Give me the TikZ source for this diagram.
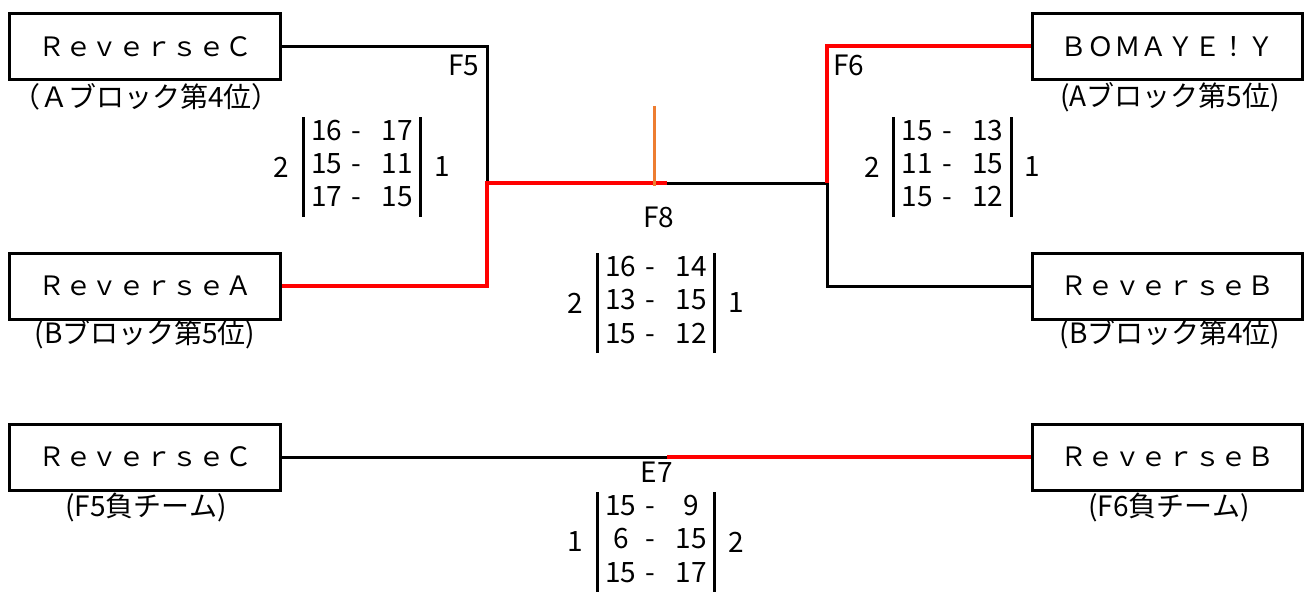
\documentclass[tikz,border=0pt]{standalone}
\usepackage{fontspec}
\setmainfont{Noto Sans CJK JP}
\usetikzlibrary{positioning}
\definecolor{winred}{RGB}{255,0,0}
\definecolor{markorange}{RGB}{237,125,49}
\setlength{\arrayrulewidth}{2.25pt}
\setlength{\tabcolsep}{6pt}
% three sets of one match, ruled left and right
\newcommand{\games}[3]{\begin{tabular}{|c@{\hspace{7pt}-\hspace{15pt}}c|}#1\\#2\\#3\end{tabular}}

\begin{document}
\begin{tikzpicture}[x=0.75pt, y=-0.75pt,
  every node/.style={font=\fontsize{21}{25}\selectfont},
  team/.style={draw, line width=2.25pt, minimum width=203pt, minimum height=49.5pt, inner sep=0pt, font=\fontsize{20}{25}\selectfont},
  note/.style={inner sep=0pt},
  score/.style={inner sep=0pt},
  wire/.style={line width=2.25pt},
  win/.style={line width=3pt, winred}]
	\useasboundingbox (0,0) rectangle (1310,592);

	% Teams and where they come from
	\node[team] (tC) at (145,46.5) {ＲｅｖｅｒｓｅＣ};
	\node[note] (nC) at (146,97) {（Ａブロック第4位）};
	\node[team] (tA) at (145,286) {ＲｅｖｅｒｓｅＡ};
	\node[note] (nA) at (145,334) {(Bブロック第5位)};
	\node[team] (tY) at (1167.5,46.5) {ＢＯＭＡＹＥ！Ｙ};
	\node[note] (nY) at (1170,97) {(Aブロック第5位)};
	\node[team] (tB) at (1167.5,286) {ＲｅｖｅｒｓｅＢ};
	\node[note] (nB) at (1170,334) {(Bブロック第4位)};
	\node[team] (lC) at (145,457) {ＲｅｖｅｒｓｅＣ};
	\node[note] (mC) at (146,507) {(F5負チーム)};
	\node[team] (lB) at (1167.5,457) {ＲｅｖｅｒｓｅＢ};
	\node[note] (mB) at (1169,507) {(F6負チーム)};

	% Junctions of the bracket
	\coordinate (f5) at (487,183);
	\coordinate (f6) at (827,183);
	\coordinate (f8) at (667,183);
	\coordinate (e7) at (667,457);
	\coordinate (o1) at (654,106);
	\coordinate (o2) at (654,186);

	\draw[wire] (tC.east) -| (f5);
	\draw[wire] (f8) -- (f6);
	\draw[wire] (tB.west) -| (f6);
	\draw[wire] (lC.east) -- (e7);
	\draw[win] (tA.east) -| (f5) -- (f8);
	\draw[win] (tY.west) -| (f6);
	\draw[win] (e7) -- (lB.west);
	\draw[markorange, line width=2.25pt] (o1) -- (o2);

	% Match names
	\node (lF5) at (464,65) {F5};
	\node (lF6) at (849,65) {F6};
	\node (lF8) at (659,217) {F8};
	\node (lE7) at (657,472) {E7};

	% Scores
	\node[score] (sF5) at (362,167) {\games{16&17}{15&11}{17&15}};
	\node[note, left=10pt of sF5] (aF5) {2};
	\node[note, right=10pt of sF5] (bF5) {1};
	\node[score] (sF6) at (952.5,167) {\games{15&13}{11&15}{15&12}};
	\node[note, left=10pt of sF6] (aF6) {2};
	\node[note, right=10pt of sF6] (bF6) {1};
	\node[score] (sF8) at (656,303) {\games{16&14}{13&15}{15&12}};
	\node[note, left=10pt of sF8] (aF8) {2};
	\node[note, right=10pt of sF8] (bF8) {1};
	\node[score] (sE7) at (656,542) {\games{15&9}{6&15}{15&17}};
	\node[note, left=10pt of sE7] (aE7) {1};
	\node[note, right=10pt of sE7] (bE7) {2};
\end{tikzpicture}
\end{document}
